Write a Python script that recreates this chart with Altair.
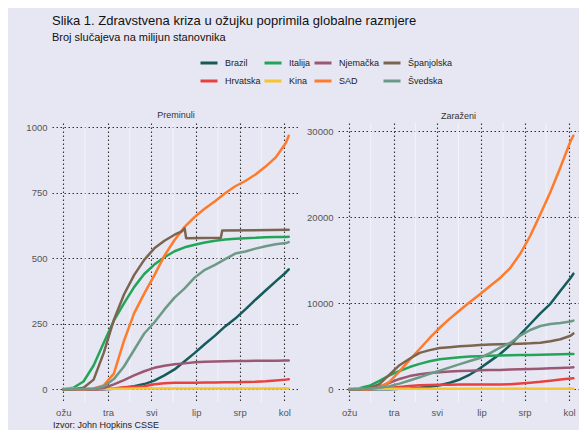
import altair as alt
import pandas as pd

TITLE = "Slika 1. Zdravstvena kriza u ožujku poprimila globalne razmjere"
SUBTITLE = "Broj slučajeva na milijun stanovnika"
SOURCE = "Izvor: John Hopkins CSSE"
PANEL_TITLES = ["Preminuli", "Zaraženi"]

COUNTRIES = ["Brazil", "Hrvatska", "Italija", "Kina", "Njemačka", "SAD", "Španjolska", "Švedska"]
COLORS = ["#165B5C", "#E8423F", "#22A559", "#F7C530", "#9B5873", "#FF7A2A", "#7C6550", "#6C9A87"]
LEGEND_ORDER = ["Brazil", "Italija", "Njemačka", "Španjolska", "Hrvatska", "Kina", "SAD", "Švedska"]

MONTH_TICKS = ["2020-03-01", "2020-04-01", "2020-05-01", "2020-06-01", "2020-07-01", "2020-08-01"]
MONTH_NAMES = ["sij", "velj", "ožu", "tra", "svi", "lip", "srp", "kol", "ruj", "lis", "stu", "pro"]
MINOR_TICKS = ["2020-03-16", "2020-04-16", "2020-05-16", "2020-06-16", "2020-07-16"]
DEATH_TICKS = [0, 250, 500, 750, 1000]
CASE_TICKS = [0, 10000, 20000, 30000]

DATES = ["2020-03-01", "2020-03-08", "2020-03-15", "2020-03-22", "2020-03-29", "2020-04-05",
         "2020-04-12", "2020-04-19", "2020-04-26", "2020-05-03", "2020-05-10", "2020-05-17",
         "2020-05-24", "2020-05-31", "2020-06-07", "2020-06-14", "2020-06-21", "2020-06-28",
         "2020-07-05", "2020-07-12", "2020-07-19", "2020-07-26", "2020-08-02", "2020-08-04"]

# Preminuli (deaths per million)
BRAZIL_D = [0, 0, 0, 0.1, 0.6, 2.3, 5.8, 11.7, 20, 33, 53, 76, 107, 139, 173, 205, 240, 270, 305, 342, 377, 412, 446, 458]
HRVATSKA_D = [0, 0, 0, 0.2, 1.5, 3, 8, 10, 12, 19, 23, 25, 25, 25, 26, 26, 27, 27, 28, 29, 31, 34, 37, 38]
ITALIJA_D = [0.5, 6, 30, 91, 178, 262, 328, 390, 440, 476, 504, 527, 542, 552, 560, 567, 572, 575, 577, 578, 580, 581, 581, 582]
KINA_D = [2.0, 2.2, 2.3, 2.3, 2.3, 2.4, 2.4, 3.2, 3.2, 3.2, 3.2, 3.2, 3.2, 3.2, 3.2, 3.2, 3.2, 3.2, 3.2, 3.2, 3.2, 3.2, 3.3, 3.3]
NJEMACKA_D = [0, 0, 0.1, 1, 5, 19, 35, 53, 69, 82, 90, 96, 99, 103, 105, 106, 107, 108, 108, 109, 109, 109, 110, 110]
SAD_D = [0, 0, 0.4, 3, 15, 60, 185, 290, 365, 435, 510, 570, 620, 658, 690, 718, 748, 775, 795, 820, 850, 885, 940, 968]
SPANJOLSKA_D_DATES = ["2020-03-01", "2020-03-08", "2020-03-15", "2020-03-22", "2020-03-29", "2020-04-05",
                      "2020-04-12", "2020-04-19", "2020-04-26", "2020-05-03", "2020-05-10", "2020-05-17",
                      "2020-05-22", "2020-05-24", "2020-05-25", "2020-06-18", "2020-06-19", "2020-08-04"]
SPANJOLSKA_D = [0, 0.4, 6, 37, 139, 265, 362, 436, 494, 538, 567, 590, 603, 614, 577, 578, 606, 609]
SVEDSKA_D = [0, 0, 1, 2, 11, 39, 87, 150, 213, 255, 305, 350, 385, 427, 456, 475, 497, 518, 526, 537, 546, 554, 558, 562]

# Zaraženi (cases per million)
BRAZIL_C = [0, 0.1, 1, 7, 20, 53, 105, 183, 293, 479, 771, 1143, 1721, 2440, 3278, 4112, 5134, 6370, 7597, 8837, 9945, 11465, 12956, 13450]
HRVATSKA_C = [1.7, 3, 12, 63, 176, 277, 378, 463, 504, 519, 539, 548, 553, 553, 554, 559, 588, 671, 776, 870, 995, 1141, 1249, 1275]
ITALIJA_C = [28, 122, 410, 979, 1617, 2135, 2589, 2963, 3273, 3489, 3627, 3732, 3806, 3858, 3891, 3924, 3949, 3979, 4000, 4020, 4043, 4075, 4107, 4114]
KINA_C = [57, 58, 58, 58, 58, 58, 59, 59, 59, 59, 59, 59, 59, 59, 59, 59, 59, 60, 60, 60, 60, 61, 61, 61]
NJEMACKA_C = [1.6, 12.5, 70, 300, 748, 1206, 1540, 1749, 1901, 1996, 2064, 2118, 2168, 2208, 2238, 2261, 2300, 2346, 2376, 2406, 2443, 2485, 2535, 2560]
SAD_C = [0.5, 3, 22, 205, 870, 2080, 3430, 4690, 5970, 7160, 8220, 9190, 10160, 11070, 12010, 12950, 14100, 15760, 17860, 20370, 22950, 25830, 28860, 29500]
SPANJOLSKA_C = [2, 14, 166, 610, 1708, 2807, 3557, 4236, 4560, 4800, 4900, 5000, 5080, 5150, 5200, 5240, 5270, 5310, 5350, 5420, 5590, 5830, 6230, 6500]
SVEDSKA_C = [1, 20, 99, 185, 359, 663, 1018, 1397, 1810, 2167, 2555, 2927, 3286, 3645, 4200, 4850, 5400, 6250, 6900, 7362, 7589, 7718, 7882, 7990]

BG = "#E6E7F3"
W_LEFT, W_RIGHT, H = 248, 241, 279
FONT = "Liberation Sans"

deaths = {"Brazil": (DATES, BRAZIL_D), "Hrvatska": (DATES, HRVATSKA_D), "Italija": (DATES, ITALIJA_D),
          "Kina": (DATES, KINA_D), "Njemačka": (DATES, NJEMACKA_D), "SAD": (DATES, SAD_D),
          "Španjolska": (SPANJOLSKA_D_DATES, SPANJOLSKA_D), "Švedska": (DATES, SVEDSKA_D)}
cases = {"Brazil": BRAZIL_C, "Hrvatska": HRVATSKA_C, "Italija": ITALIJA_C, "Kina": KINA_C,
         "Njemačka": NJEMACKA_C, "SAD": SAD_C, "Španjolska": SPANJOLSKA_C, "Švedska": SVEDSKA_C}

rows_d, rows_c = [], []
for i, c in enumerate(COUNTRIES):
    ds, vs = deaths[c]
    for j, (d, v) in enumerate(zip(ds, vs)):
        rows_d.append({"datum": d, "zemlja": c, "vrijednost": v, "red": i * 100 + j})
    for j, (d, v) in enumerate(zip(DATES, cases[c])):
        rows_c.append({"datum": d, "zemlja": c, "vrijednost": v, "red": i * 100 + j})
df_d = pd.DataFrame(rows_d)
df_c = pd.DataFrame(rows_c)


def ms(s):
    return int(pd.Timestamp(s, tz="UTC").value // 10**6)


t0, t1 = ms(DATES[0]), ms(DATES[-1])
span = t1 - t0


def y_domain(values):
    lo, hi = min(values), max(values)
    p = 0.05 * (hi - lo)
    return [lo - p, hi + p]


color_map = dict(zip(COUNTRIES, COLORS))
color = alt.Color(
    "zemlja:N",
    scale=alt.Scale(domain=LEGEND_ORDER, range=[color_map[c] for c in LEGEND_ORDER]),
    legend=alt.Legend(
        orient="none", legendX=147, legendY=-70, columns=4, direction="horizontal", title=None,
        symbolType="stroke", symbolSize=289, symbolStrokeWidth=3, labelFont=FONT,
        labelFontSize=9, labelColor="#222", labelOffset=6, columnPadding=-3, rowPadding=2,
        gridAlign="each",
    ),
)

label_expr = "[" + ",".join("'%s'" % m for m in MONTH_NAMES) + "][utcmonth(datum.value)]"


def x_enc(right_pad):
    return alt.X(
        "datum:T",
        scale=alt.Scale(type="utc", domain=[t0 - 0.05 * span, t1 + right_pad * span], nice=False),
        axis=alt.Axis(values=[ms(s) for s in MONTH_TICKS], labelExpr=label_expr, title=None),
    )


minor_df = pd.DataFrame({"datum": MINOR_TICKS})


def panel(df, ticks, min_extent, width, title, right_pad, extra=None):
    xe = x_enc(right_pad)
    minor = alt.Chart(minor_df).mark_rule(color="#F3F4FA", strokeWidth=1).encode(x=xe)
    lines = alt.Chart(df).mark_line(strokeWidth=2.5, strokeCap="round", strokeJoin="round").encode(
        x=xe,
        y=alt.Y("vrijednost:Q", scale=alt.Scale(domain=y_domain(list(df["vrijednost"])), nice=False, zero=False),
                axis=alt.Axis(values=ticks, format="d", title=None, minExtent=min_extent)),
        color=color,
        detail="zemlja:N",
        order="red:Q",
    )
    layers = [minor, lines]
    if extra is not None:
        layers.append(extra)
    return alt.layer(*layers).properties(
        width=width, height=H,
        title=alt.TitleParams(title, fontSize=9, font=FONT, fontWeight="normal", color="#333",
                              anchor="middle", offset=2),
    )


source = alt.Chart(pd.DataFrame({"t": [SOURCE]})).mark_text(
    align="left", baseline="middle", font=FONT, fontSize=9, color="#222"
).encode(text="t:N", x=alt.value(1), y=alt.value(H + 23))

left = panel(df_d, DEATH_TICKS, 42, W_LEFT, PANEL_TITLES[0], 0.05, source)
right = panel(df_c, CASE_TICKS, 35, W_RIGHT, PANEL_TITLES[1], 0.025)

chart = alt.hconcat(left, right, spacing=3).properties(
    title=alt.TitleParams(
        TITLE, subtitle=SUBTITLE, anchor="start", dx=42, fontSize=13, font=FONT, fontWeight="normal",
        color="#111", subtitleFont=FONT, subtitleFontSize=11, subtitleColor="#111",
        subtitlePadding=4, offset=10,
    )
).configure(
    background=BG, padding={"left": 2, "top": 7, "right": 0, "bottom": 0}
).configure_view(
    stroke=None, fill=BG
).configure_axis(
    labelFont=FONT, labelFontSize=9.5, labelColor="#555", grid=True, gridColor="#333",
    gridDash=[1.5, 2.5], gridWidth=1.1, domain=False, ticks=False, tickSize=0, labelPadding=5,
)

chart.save("out.html", embed_options={"renderer": "svg", "actions": False})
